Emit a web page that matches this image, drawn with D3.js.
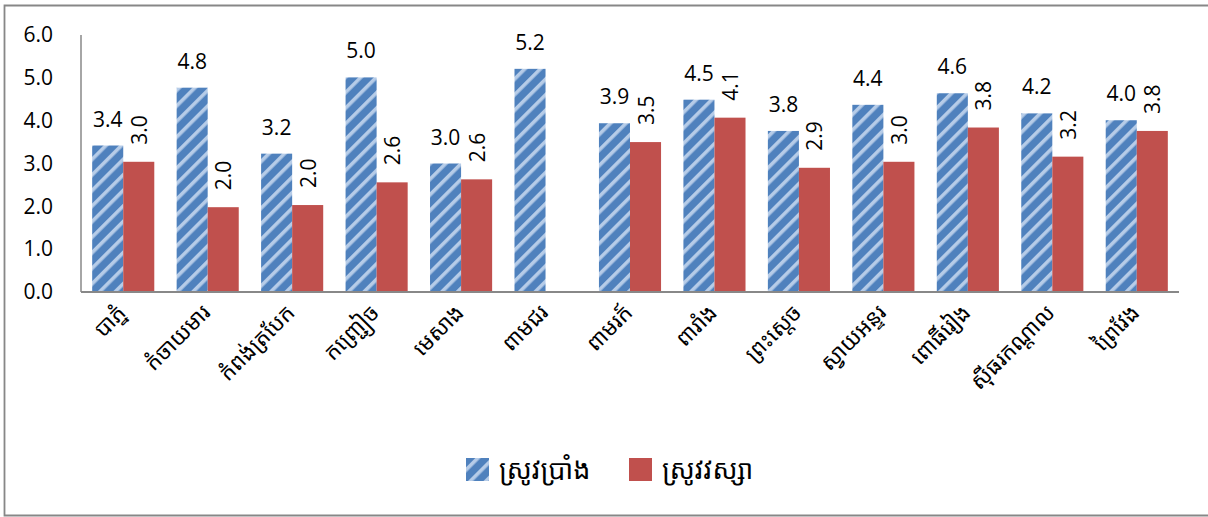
<!DOCTYPE html>
<html>
<head>
<meta charset="utf-8">
<script src="https://cdn.jsdelivr.net/npm/d3@7"></script>
<style>
  body { margin: 0; background: #fff; }
  svg { display: block; }
  .num { font-family: "Open Sans", "DejaVu Sans", sans-serif; fill: #000; }
  .kh { font-family: "Khmer OS", "Noto Sans Khmer", "Khmer UI", "Noto Sans", sans-serif; fill: #000; }
</style>
</head>
<body>
<div id="chart"></div>
<script>
const districts = ['បាភ្នំ', 'កំចាយមារ', 'កំពង់ត្របែក', 'កញ្ជ្រៀច', 'មេសាង', 'ពាមជរ', 'ពាមរក៍',
  'ពារាំង', 'ព្រះស្ដេច', 'ស្វាយអន្ទរ', 'ពោធិ៍រៀង', 'ស៊ីធរកណ្ដាល', 'ព្រៃវែង'];
const dryRice = [3.42, 4.77, 3.23, 5.01, 3.0, 5.21, 3.94, 4.49, 3.76, 4.37, 4.64, 4.17, 4.01];
const wetRice = [3.04, 1.98, 2.03, 2.56, 2.63, null, 3.5, 4.07, 2.9, 3.04, 3.84, 3.16, 3.76];
const seriesNames = ['ស្រូវប្រាំង', 'ស្រូវវស្សា'];
const yTicks = [0, 1, 2, 3, 4, 5, 6];

const width = 1208, height = 517;
const margin = { left: 81, right: 29, top: 35, bottom: 225 };
const blue = '#4f81bd', red = '#c0504d';

const svg = d3.select('#chart').append('svg')
  .attr('width', width)
  .attr('height', height);

// hatched fill for the dry season series
const defs = svg.append('defs');
const pat = defs.append('pattern')
  .attr('id', 'hatch')
  .attr('patternUnits', 'userSpaceOnUse')
  .attr('width', 11)
  .attr('height', 10)
  .attr('patternTransform', 'rotate(45)');
pat.append('rect').attr('width', 11).attr('height', 10).attr('fill', blue);
pat.append('rect').attr('x', 0).attr('width', 3.6).attr('height', 10).attr('fill', '#b6cce8');

// outer border (right side runs off the picture)
svg.append('path')
  .attr('d', 'M1210,5.5 H4.5 V515.5 H1210')
  .attr('fill', 'none')
  .attr('stroke', '#878787')
  .attr('stroke-width', 1.8);

const x = d3.scaleBand()
  .domain(districts)
  .range([margin.left, width - margin.right]);

const x1 = d3.scaleBand()
  .domain([0, 1])
  .range([0, x.bandwidth()])
  .paddingOuter(0.36);

const y = d3.scaleLinear()
  .domain([0, 6])
  .range([height - margin.bottom, margin.top]);

const g = svg.append('g');

const rows = districts.map((d, i) => ({ name: d, dry: dryRice[i], wet: wetRice[i] }));

// dry season bars
g.selectAll('rect.dry')
  .data(rows)
  .enter()
  .append('rect')
  .attr('class', 'dry')
  .attr('x', d => x(d.name) + x1(0))
  .attr('width', x1.bandwidth())
  .attr('y', d => y(d.dry))
  .attr('height', d => y(0) - y(d.dry))
  .attr('fill', 'url(#hatch)');

// wet season bars
g.selectAll('rect.wet')
  .data(rows.filter(d => d.wet != null))
  .enter()
  .append('rect')
  .attr('class', 'wet')
  .attr('x', d => x(d.name) + x1(1))
  .attr('width', x1.bandwidth())
  .attr('y', d => y(d.wet))
  .attr('height', d => y(0) - y(d.wet))
  .attr('fill', red);

// labels
g.selectAll('text.dryLbl')
  .data(rows)
  .enter()
  .append('text')
  .attr('class', 'num')
  .attr('x', d => x(d.name) + x1(0) + x1.bandwidth() / 2)
  .attr('y', d => y(d.dry) - 19)
  .attr('text-anchor', 'middle')
  .attr('font-size', '21px')
  .text(d => d.dry.toFixed(1));

g.selectAll('text.wetLbl')
  .data(rows.filter(d => d.wet != null))
  .enter()
  .append('text')
  .attr('class', 'num')
  .attr('transform', d => 'translate(' + (x(d.name) + x1(1) + x1.bandwidth() / 2) + ',' + (y(d.wet) - 17) + ') rotate(-90)')
  .attr('dominant-baseline', 'central')
  .attr('font-size', '21px')
  .text(d => d.wet.toFixed(1));

// axes
const axisColor = '#888';
g.append('line')
  .attr('x1', margin.left).attr('x2', margin.left)
  .attr('y1', y(6)).attr('y2', y(0))
  .attr('stroke', axisColor).attr('stroke-width', 1.5);
g.append('line')
  .attr('x1', margin.left).attr('x2', width - margin.right)
  .attr('y1', y(0)).attr('y2', y(0))
  .attr('stroke', axisColor).attr('stroke-width', 2);

const yAxis = g.append('g')
  .attr('transform', 'translate(' + margin.left + ',0)')
  .call(d3.axisLeft(y).tickValues(yTicks).tickSize(0).tickPadding(28).tickFormat(d3.format('.1f')));
yAxis.select('.domain').remove();
yAxis.selectAll('text')
  .attr('class', 'num')
  .attr('font-size', '21px')
  .attr('fill', '#000');

const xAxis = g.append('g')
  .attr('transform', 'translate(0,' + y(0) + ')')
  .call(d3.axisBottom(x).tickSize(0).tickPadding(0));
xAxis.select('.domain').remove();
xAxis.selectAll('text')
  .attr('class', 'kh')
  .attr('font-size', '22px')
  .attr('fill', '#000')
  .attr('text-anchor', 'end')
  .attr('dy', null)
  .attr('y', 0)
  .attr('transform', 'translate(4,22) rotate(-45)');

// legend
const legend = svg.append('g');
const legendItems = [
  { name: seriesNames[0], fill: 'url(#hatch)', x: 466 },
  { name: seriesNames[1], fill: red, x: 629 }
];
legendItems.forEach(item => {
  legend.append('rect')
    .attr('x', item.x).attr('y', 458)
    .attr('width', 23).attr('height', 23)
    .attr('fill', item.fill);
  legend.append('text')
    .attr('class', 'kh')
    .attr('x', item.x + 33)
    .attr('y', 468)
    .attr('dominant-baseline', 'central')
    .attr('font-size', '27px')
    .text(item.name);
});
</script>
</body>
</html>
